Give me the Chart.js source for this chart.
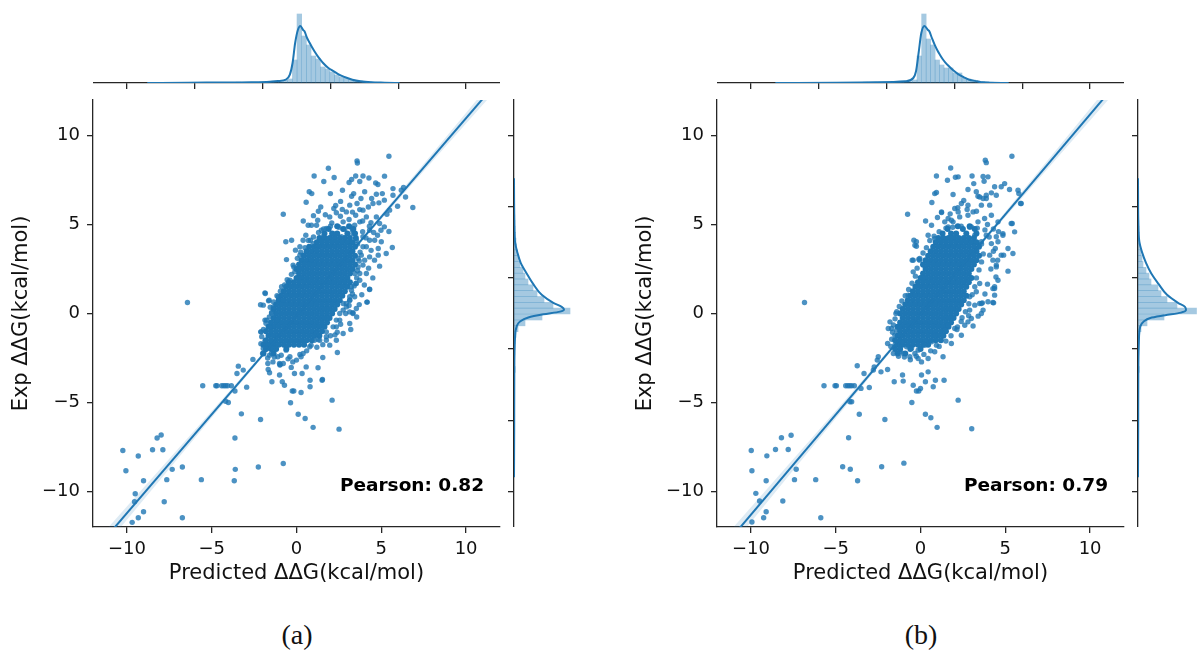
<!DOCTYPE html>
<html>
<head>
<meta charset="utf-8">
<script src="https://cdn.jsdelivr.net/npm/chart.js@4.4.0/dist/chart.umd.min.js"></script>
<style>
  body { margin: 0; background: #fff; }
  #wrap { position: relative; width: 1197px; height: 653px; overflow: hidden; background: #fff; }
  canvas { position: absolute; }
  .cap { position: absolute; width: 100px; text-align: center; font-family: "Liberation Serif", "DejaVu Serif", serif; font-size: 28px; line-height: 30px; color: #111; }
</style>
</head>
<body>
<div id="wrap">
  <canvas id="mainA" width="510" height="498" style="left:0px;top:90px"></canvas>
  <canvas id="topA" width="407" height="91" style="left:93px;top:0px"></canvas>
  <canvas id="rightA" width="73" height="437" style="left:500px;top:90px"></canvas>
  <canvas id="mainB" width="510" height="498" style="left:624px;top:90px"></canvas>
  <canvas id="topB" width="407" height="91" style="left:717px;top:0px"></canvas>
  <canvas id="rightB" width="73" height="437" style="left:1124px;top:90px"></canvas>
  <div class="cap" style="left:247px;top:620px">(a)</div>
  <div class="cap" style="left:871px;top:620px">(b)</div>
</div>
<script>
// ticks shared by both panels
const xTicks = [-10, -5, 0, 5, 10];
const yTicks = [-10, -5, 0, 5, 10];
const xTitle = 'Predicted ΔΔG(kcal/mol)';
const yTitle = 'Exp ΔΔG(kcal/mol)';
const pearson = [0.82, 0.79];

// regression fits [slope, intercept] and confidence band half widths
const fitA = [1.11, -0.12];
const fitB = [1.125, -0.06];
const bandX = [-12, -8, -4, 0, 4, 8, 12];
const bandHalfA = [0.45, 0.3, 0.15, 0.06, 0.1, 0.22, 0.38];
const bandHalfB = [0.5, 0.33, 0.17, 0.07, 0.11, 0.25, 0.42];

// dense core, rows of [y, x, x, ...]
const coreA = [
  [4.9, 2.4, 3.1],
  [4.75, 1.9, 2.75, 3.35],
  [4.5, 1.65, 2.1, 2.4, 3.0, 3.45],
  [4.25, 1.35, 1.65, 1.95, 2.25, 2.55, 2.85, 3.15, 3.5],
  [4.0, 1.2, 1.5, 1.8, 2.1, 2.4, 2.7, 3.0, 3.3],
  [3.75, 0.75, 1.05, 1.35, 1.65, 1.95, 2.25, 2.55, 2.85, 3.15, 3.45],
  [3.5, 0.6, 0.9, 1.2, 1.5, 1.8, 2.1, 2.4, 2.7, 3.0, 3.3],
  [3.25, 0.45, 0.75, 1.05, 1.35, 1.65, 1.95, 2.25, 2.55, 2.85, 3.15, 3.45],
  [3.0, 0.3, 0.6, 0.9, 1.2, 1.5, 1.8, 2.1, 2.4, 2.7, 3.0, 3.3],
  [2.75, 0.15, 0.45, 0.75, 1.05, 1.35, 1.65, 1.95, 2.25, 2.55, 2.85, 3.15, 3.45],
  [2.5, 0, 0.3, 0.6, 0.9, 1.2, 1.5, 1.8, 2.1, 2.4, 2.7, 3.0, 3.3],
  [2.25, 0.15, 0.45, 0.75, 1.05, 1.35, 1.65, 1.95, 2.25, 2.55, 2.85, 3.15],
  [2.0, 0, 0.3, 0.6, 0.9, 1.2, 1.5, 1.8, 2.1, 2.4, 2.7, 3.0],
  [1.75, -0.45, -0.15, 0.15, 0.45, 0.75, 1.05, 1.35, 1.65, 1.95, 2.25, 2.55, 2.85, 3.15],
  [1.5, -0.6, -0.3, 0, 0.3, 0.6, 0.9, 1.2, 1.5, 1.8, 2.1, 2.4, 2.7, 3.0],
  [1.25, -0.75, -0.45, -0.15, 0.15, 0.45, 0.75, 1.05, 1.35, 1.65, 1.95, 2.25, 2.55, 2.85],
  [1.0, -0.9, -0.6, -0.3, 0, 0.3, 0.6, 0.9, 1.2, 1.5, 1.8, 2.1, 2.4, 2.7],
  [0.75, -1.05, -0.75, -0.45, -0.15, 0.15, 0.45, 0.75, 1.05, 1.35, 1.65, 1.95, 2.25, 2.55],
  [0.5, -1.2, -0.9, -0.6, -0.3, 0, 0.3, 0.6, 0.9, 1.2, 1.5, 1.8, 2.1, 2.4],
  [0.25, -1.35, -1.05, -0.75, -0.45, -0.15, 0.15, 0.45, 0.75, 1.05, 1.35, 1.65, 1.95, 2.25],
  [0, -1.2, -0.9, -0.6, -0.3, 0, 0.3, 0.6, 0.9, 1.2, 1.5, 1.8, 2.1],
  [-0.25, -1.35, -1.05, -0.75, -0.45, -0.15, 0.15, 0.45, 0.75, 1.05, 1.35, 1.65, 1.95],
  [-0.5, -1.5, -1.2, -0.9, -0.6, -0.3, 0, 0.3, 0.6, 0.9, 1.2, 1.5, 1.8],
  [-0.75, -1.65, -1.35, -1.05, -0.75, -0.45, -0.15, 0.15, 0.45, 0.75, 1.05, 1.35, 1.65],
  [-1.0, -1.8, -1.5, -1.2, -0.9, -0.6, -0.3, 0, 0.3, 0.6, 0.9, 1.2, 1.5],
  [-1.25, -1.65, -1.35, -1.05, -0.75, -0.45, -0.15, 0.15, 0.45, 0.75, 1.05, 1.35],
  [-1.5, -1.8, -1.5, -1.2, -0.9, -0.6, -0.3, 0, 0.3, 0.6, 0.9],
  [-1.75, -1.95, -1.65, -1.35, -1.05, -0.75, -0.45, -0.15, 0.15, 0.45],
  [-2.0, -1.8, -1.5, -1.2, -0.6],
  [-2.25, -1.95, -1.35]
];
const coreB = [
  [4.9, 2.2, 2.9],
  [4.75, 1.6, 2.5, 3.2],
  [4.5, 1.3, 1.8, 2.1, 2.7, 3.3],
  [4.25, 1.05, 1.35, 1.65, 1.95, 2.25, 2.55, 2.85, 3.15],
  [4.0, 0.9, 1.2, 1.5, 1.8, 2.1, 2.4, 2.7, 3.0, 3.3],
  [3.75, 0.75, 1.05, 1.35, 1.65, 1.95, 2.25, 2.55, 2.85, 3.15, 3.45],
  [3.5, 0.6, 0.9, 1.2, 1.5, 1.8, 2.1, 2.4, 2.7, 3.0, 3.3],
  [3.25, 0.45, 0.75, 1.05, 1.35, 1.65, 1.95, 2.25, 2.55, 2.85, 3.15, 3.45],
  [3.0, 0.3, 0.6, 0.9, 1.2, 1.5, 1.8, 2.1, 2.4, 2.7, 3.0, 3.3],
  [2.75, 0.15, 0.45, 0.75, 1.05, 1.35, 1.65, 1.95, 2.25, 2.55, 2.85, 3.15],
  [2.5, 0.3, 0.6, 0.9, 1.2, 1.5, 1.8, 2.1, 2.4, 2.7, 3.0],
  [2.25, 0.15, 0.45, 0.75, 1.05, 1.35, 1.65, 1.95, 2.25, 2.55, 2.85],
  [2.0, 0, 0.3, 0.6, 0.9, 1.2, 1.5, 1.8, 2.1, 2.4, 2.7, 3.0],
  [1.75, -0.15, 0.15, 0.45, 0.75, 1.05, 1.35, 1.65, 1.95, 2.25, 2.55, 2.85],
  [1.5, -0.3, 0, 0.3, 0.6, 0.9, 1.2, 1.5, 1.8, 2.1, 2.4, 2.7],
  [1.25, -0.45, -0.15, 0.15, 0.45, 0.75, 1.05, 1.35, 1.65, 1.95, 2.25, 2.55],
  [1.0, -0.6, -0.3, 0, 0.3, 0.6, 0.9, 1.2, 1.5, 1.8, 2.1, 2.4, 2.7],
  [0.75, -0.75, -0.45, -0.15, 0.15, 0.45, 0.75, 1.05, 1.35, 1.65, 1.95, 2.25, 2.55],
  [0.5, -0.9, -0.6, -0.3, 0, 0.3, 0.6, 0.9, 1.2, 1.5, 1.8, 2.1, 2.4],
  [0.25, -1.05, -0.75, -0.45, -0.15, 0.15, 0.45, 0.75, 1.05, 1.35, 1.65, 1.95, 2.25],
  [0, -1.2, -0.9, -0.6, -0.3, 0, 0.3, 0.6, 0.9, 1.2, 1.5, 1.8, 2.1],
  [-0.25, -1.05, -0.75, -0.45, -0.15, 0.15, 0.45, 0.75, 1.05, 1.35, 1.65, 1.95],
  [-0.5, -1.2, -0.9, -0.6, -0.3, 0, 0.3, 0.6, 0.9, 1.2, 1.5, 1.8],
  [-0.75, -1.35, -1.05, -0.75, -0.45, -0.15, 0.15, 0.45, 0.75, 1.05, 1.35, 1.65],
  [-1.0, -1.2, -0.9, -0.6, -0.3, 0, 0.3, 0.6, 0.9, 1.2, 1.5],
  [-1.25, -1.35, -1.05, -0.75, -0.45, -0.15, 0.15, 0.45, 0.75, 1.05, 1.35],
  [-1.5, -1.5, -1.2, -0.9, -0.6, -0.3, 0, 0.3, 0.6, 0.9, 1.2],
  [-1.75, -1.35, -1.05, -0.75, -0.45, -0.15, 0.15, 0.45],
  [-2.0, -1.5, -1.2, -0.6, 0],
  [-2.25, -1.35, -0.9]
];

// scattered points, flat x,y pairs
const outA = [
  5.45,8.84, 3.57,8.58, 3.59,8.46, 1.88,8.16, 1.04,7.73, 1.61,7.42, 2.22,7.64, 0.75,6.84, 0.90,6.74, 0.57,6.25,
  2.0,6.74, 2.71,6.93, 3.10,7.36, 3.25,7.53, 3.49,7.73, 3.73,7.42, 3.92,7.73, 4.27,7.62, 4.67,7.34, 4.80,7.25,
  5.19,7.72, 5.69,7.02, 6.18,6.93, 6.31,7.08, 6.43,6.55, 6.86,5.96, 5.96,6.03, 5.49,5.81, 5.33,5.58, 5.69,6.65,
  5.06,6.74, 5.18,6.37, 4.71,6.70, 4.86,6.22, 4.43,6.46, 4.02,6.84, 3.80,6.46, 3.37,6.74, 3.25,6.59, 3.14,6.09,
  3.57,6.18, 3.92,5.81, 4.24,5.99, 4.51,6.18, 4.12,5.43, 4.39,5.11, 4.71,5.43, 4.90,5.06, 5.18,4.87, 4.98,4.68,
  5.45,4.61, 4.78,4.40, 4.31,4.68, 3.73,5.15, 5.65,3.71, 5.29,3.37, 4.82,3.65, 4.82,3.28, 4.90,2.66, 4.31,1.37,
  4.16,0.64, 4.12,2.25, 3.73,2.25, 3.49,1.69, 3.33,0.04, 3.14,0.09, 2.55,-0.37, 2.27,-1.20, 1.76,-1.50, 1.27,-1.46,
  -0.78,5.58, 0.69,4.96, 0.88,4.96, 1.25,5.24, 1.43,5.99, 1.29,5.75, 1.96,5.43, 2.35,5.66, 2.08,5.09, 2.59,5.47,
  2.94,5.71, 2.75,5.15, 3.10,5.28, 3.49,5.52, 3.73,5.84, 2.31,6.07, -0.63,4.03, -0.29,4.12, 0.55,4.40, 0.82,4.12,
  -0.06,3.56, -0.59,3.03, -0.20,2.72, -0.10,2.34, -1.84,1.12, -2.12,0.49, -1.65,0.71, -2.10,-1.03, -1.86,-0.37, 1.18,4.96,
  1.47,4.68, 1.76,4.78, 1.57,4.31, 2.16,4.49, 2.65,4.31, 3.14,4.87, 3.43,4.96, 3.33,4.49, 0.20,3.75, 0.39,3.28,
  0.98,3.93, 1.18,3.56, 0.88,3.0, 3.53,4.12, 3.92,3.75, 3.82,3.28, 4.02,3.0, 3.63,2.62, 3.43,2.25, 3.53,1.69,
  3.24,1.31, 3.14,0.94, 2.94,0.56, 2.75,0.19, 2.55,0, 2.35,-0.37, 2.16,-0.75, 1.76,-1.03, 4.12,3.75, 4.61,4.12,
  5.0,4.03, 3.92,4.31, 4.31,4.12, 3.63,3.09, 3.92,2.72, 4.31,3.18, 3.73,1.87, 3.24,1.50, 3.43,0.94, 2.94,0.37,
  3.14,0.75, 0.39,4.12, 0.2,3.28, -0.39,1.87, -0.88,1.50, -1.08,0.94, -1.37,0.37, -0.78,0.75, -1.47,0, -1.18,-0.37,
  3.6,3.9, 3.75,3.45, 3.7,2.95, 3.6,2.4, 3.55,2.0, 3.4,1.55, 3.3,1.1, 3.1,0.45, 2.9,0.0, 2.6,-0.6,
  2.4,-1.05, 2.0,-1.25, 1.55,-1.75, 1.2,-1.9, 0.6,-2.1, 0.2,-2.3, 3.9,4.6, 3.3,4.7, 2.85,4.75, 2.5,4.85,
  2.0,4.9, 1.6,4.75, 1.3,4.55, 1.0,4.3, 0.7,4.1, 0.5,3.7, 0.25,3.45, 0.05,3.1, -0.15,2.6, -0.3,2.2,
  -0.55,1.9, -0.7,1.6, -0.95,1.25, -1.15,1.0, -1.35,0.65, -1.55,0.35, -1.6,-0.2, -1.8,-0.55, -1.95,-0.9, -2.05,-1.3,
  -2.1,-1.7, -2.0,-2.25, -1.7,-2.5, -1.3,-2.45, -0.9,-2.35, -0.5,-2.55, 2.2,5.9, 2.7,5.85, 3.3,5.7, 1.7,5.55,
  2.6,6.3, 1.0,5.5, 0.4,5.2, 3.9,5.2, 4.3,4.9, 4.55,4.55, 4.1,4.25, 4.4,3.55, 4.6,3.0, 4.25,2.55,
  4.5,2.0, 4.0,1.6, 3.85,1.05, 3.7,0.5, 3.55,-0.2, 3.2,-0.9,
  -1.78,-1.97, -1.59,-2.34, -1.69,-2.81, -1.39,-2.72, -1.0,-2.81, -1.10,-2.43, -3.43,-2.96, -3.51,-3.37, -3.14,-3.18, -2.57,-2.58,
  -1.67,-3.15, -1.59,-3.33, -1.45,-3.84, -1.0,-3.46, -0.84,-3.84, -0.71,-4.03, -0.25,-4.36, -0.16,-4.36, -0.35,-5.02, 0.10,-5.66,
  0.51,-5.90, 0.98,-6.40, 0.27,-4.44, 0.80,-4.12, 0.80,-3.75, 0.57,-3.0, 0.33,-3.37, -0.12,-3.37, -0.31,-3.03, -0.96,-2.87,
  -0.22,-2.72, -0.61,-2.06, 0.27,-2.43, 0.86,-1.78, 1.06,-1.50, 1.51,-3.75, 1.55,-2.47, 2.41,-2.19, 1.27,-3.05, 1.53,-3.71,
  2.10,-4.87, 2.51,-6.50, 1.96,-1.78, 2.35,-1.50, 2.75,-1.12, 3.14,-0.56, 3.33,0, 3.53,0.28, 4.31,1.35, 4.16,0.64,
  3.14,0.75, 2.75,0.56, 2.35,-0.75, 1.76,-1.31, 1.37,-1.50, 1.18,-1.12, 0.78,-1.87, 0.39,-2.25, 0,-2.62, -0.39,-2.43,
  -0.78,-2.81, -0.98,-2.90, -1.47,-2.25, -1.37,-1.97, -1.86,1.16, -1.96,0.47, -1.61,0.75, -1.47,0.06, -1.76,-0.37, -1.57,-0.75,
  -2.10,-1.03, -1.86,-1.54, -1.96,-1.97,
  -5.53,-4.06, -4.76,-4.06, -4.69,-4.06, -4.41,-4.06, -4.29,-4.06, -4.18,-4.06, -4.06,-4.06, -3.84,-4.06, -3.63,-4.36, -2.94,-4.14,
  -4.18,-4.93, -4.02,-5.0, -3.25,-5.64, -2.12,-5.96, -3.63,-7.0, -3.61,-8.76, -3.67,-9.40, -5.61,-9.34, -6.73,-11.48, -6.73,-8.63,
  -7.33,-8.76, -7.65,-9.34, -7.80,-10.58, -2.25,-8.63, -0.78,-8.43, -6.43,0.62,
  -10.24,-7.70, -10.06,-8.84, -9.33,-8.01, -8.49,-7.66, -8.22,-7.0, -7.98,-6.83, -7.88,-7.66, -9.02,-9.40, -9.51,-10.13, -9.55,-10.58,
  -9.02,-11.14, -9.33,-11.48, -9.69,-11.74
];
const outB = [
  5.39,8.84, 3.82,8.61, 3.88,8.48, 1.78,8.18, 0.94,7.73, 1.59,7.49, 2.22,7.68, 2.06,7.66, 3.04,7.73, 3.14,7.30,
  3.69,7.70, 3.98,7.68, 3.75,7.43, 0.84,6.74, 0.94,6.80, 0.67,6.24, -0.76,5.58, 1.92,6.69, 2.80,6.97, 3.29,6.84,
  3.39,6.59, 3.69,6.46, 3.88,6.65, 4.18,6.78, 4.47,6.65, 4.76,7.12, 4.96,7.30, 5.25,6.97, 5.75,6.93, 5.90,6.18,
  5.35,5.06, 5.55,4.59, 4.86,4.40, 5.16,3.65, 5.16,2.38, 4.47,2.62, 4.37,1.40, 4.27,0.62, 3.59,0, 2.84,-0.13,
  2.45,-0.24, 2.61,-0.66, 2.18,-0.75, 4.41,3.65, 4.08,3.28, 4.76,3.28, 4.18,3.93, 4.57,4.03, 3.88,4.40, 3.59,4.03,
  3.20,4.40, 3.0,4.87, 3.39,5.15, 3.78,5.34, 4.18,5.52, 4.57,5.15, 4.08,6.09, 3.59,6.09, 2.80,6.09, 2.41,6.18,
  2.22,5.71, 2.80,5.52, 3.10,5.71, 1.63,5.34, 1.92,5.15, 1.63,4.87, 2.02,5.90, 1.24,5.67, 1.43,5.15, 0.65,4.96,
  0.45,4.40, 0.84,4.21, -0.24,4.03, -0.33,3.84, -0.10,3.05, -0.43,3.0, -0.73,1.03, -0.33,1.03, -6.84,0.62, -1.45,0,
  -0.39,4.12, -0.24,3.78, -0.49,3.0, -0.04,3.09, -0.43,2.34, 0.16,2.72, 1.24,5.71, 1.82,5.24, 2.31,5.43, 3.49,6.55,
  3.88,6.46, 4.37,7.12, 5.80,6.74, 5.94,6.18, 5.41,5.06, 4.86,4.49, 4.47,4.31, 4.90,3.28, 5.45,3.37, 4.27,3.0,
  4.47,2.72, 4.57,1.87, 4.37,1.50, 4.31,0.60, 3.49,1.69, 3.29,1.22, 3.49,0.56, 2.90,0.94, 3.69,0.19, 2.90,0.19,
  3.6,3.9, 3.7,3.35, 3.6,2.9, 3.45,2.45, 3.3,2.0, 3.2,1.5, 3.05,1.05, 2.85,0.55, 2.65,0.1, 2.4,-0.45,
  2.15,-0.9, 1.8,-1.25, 1.5,-1.55, 1.1,-1.85, 0.6,-2.1, 0.2,-2.3, 3.8,4.7, 3.35,4.8, 2.9,4.85, 2.4,4.9,
  1.9,4.85, 1.5,4.8, 1.1,4.6, 0.8,4.35, 0.55,4.1, 0.35,3.7, 0.15,3.4, -0.05,3.0, -0.2,2.55, -0.3,2.1,
  -0.5,1.7, -0.7,1.35, -0.9,1.0, -1.1,0.7, -1.25,0.4, -1.4,0.1, -1.5,-0.3, -1.6,-0.65, -1.65,-1.05, -1.7,-1.45,
  -1.75,-1.85, -1.6,-2.25, -1.3,-2.4, -0.95,-2.45, -0.6,-2.6, -0.25,-2.4, 2.2,5.95, 2.75,5.85, 3.3,5.75, 1.75,5.6,
  2.55,6.35, 1.0,5.4, 0.3,5.2, 3.95,5.0, 4.3,4.75, 4.6,4.6, 4.05,4.3, 4.3,3.5, 4.55,3.0, 4.15,2.5,
  4.45,2.05, 3.95,1.65, 3.8,1.1, 3.65,0.6, 3.4,-0.15, 3.1,-0.7,
  -1.80,-0.47, -1.71,-0.84, -1.41,-0.94, -1.22,-1.22, -1.94,-1.69, -1.51,-1.78, -1.22,-2.15, -1.02,-2.25, -0.63,-2.43, -0.33,-2.25,
  -0.14,-2.53, 0.06,-2.72, 0.45,-2.53, 0.84,-2.15, 0.94,-1.78, 1.33,-2.43, 1.82,-1.69, 2.41,-1.22, 2.80,-0.47, 3.0,-0.28,
  3.20,0.47, 3.59,0.56, 3.98,0.66, 4.37,1.03, 4.27,1.40, -1.90,-0.84, -1.22,-0.84, -1.51,-1.22, -1.12,-1.59, -0.82,-1.87,
  -0.53,-1.97, -0.14,-2.06, 0.25,-1.78, 0.65,-1.59, 0.84,-1.22, 1.43,-0.94, 1.63,-0.66, 2.02,-0.84,
  -2.49,-2.43, -2.55,-2.62, -3.73,-2.94, -3.33,-3.37, -2.78,-3.18, -2.73,-3.0, -2.33,-3.28, -1.94,-3.15, -1.55,-3.84, -1.06,-3.46,
  -1.02,-3.80, -0.43,-4.03, -0.24,-4.36, -0.10,-4.36, 0,-4.21, 0.29,-3.84, 0.75,-4.12, 0.88,-3.75, 1.39,-3.75, 0.45,-3.28,
  0.06,-3.46, -0.51,-5.0, 0.29,-5.66, 0.61,-5.86, 0.98,-6.40, 2.22,-4.87, 3.02,-6.48,
  -5.69,-4.06, -5.04,-4.06, -4.96,-4.06, -4.41,-4.06, -4.29,-4.06, -4.18,-4.06, -4.06,-4.06, -3.90,-4.06, -3.51,-4.21, -3.02,-4.16,
  -4.16,-4.96, -4.06,-4.96, -3.61,-5.66, -2.10,-5.96, -4.24,-6.98, -4.59,-8.61, -4.14,-8.75, -3.71,-9.40, -2.29,-8.61, -0.98,-8.41,
  -6.18,-9.34, -5.88,-11.48, -7.63,-6.84, -8.20,-6.98, -8.55,-7.64, -7.80,-7.64, -9.98,-7.70, -9.06,-8.0, -9.94,-8.84, -9.10,-9.40,
  -9.71,-10.11, -9.49,-10.54, -9.10,-11.14, -9.25,-11.48, -9.94,-11.72, -7.33,-8.75, -7.43,-9.34, -8.12,-10.54
];

// top marginal: histogram of predicted values + KDE
const topBinsA = [-9.45,-9.10,-5.66,-4.28,-3.93,-2.55,-2.20,-1.86,-1.51,-1.17,-0.82,-0.48,-0.13,0.21,0.56,0.90,1.25,1.59,1.94,2.28,2.63,2.97,3.32,3.66,4.01,4.35,4.70,5.04,5.39,5.73,6.08,6.42];
const topHistA = [0.6,0.6,0.4,0.9,0.6,0.6,0.8,1.0,1.2,1.5,2.5,4,23,69,47,38,27,24,16,14,11,8,6,4.5,3.5,2.5,2,1.5,1.2,0.8,0.6,0.5];
const topKdeXA = [-11,-8,-5,-3.33,-1.96,-1.37,-0.78,-0.49,-0.29,-0.10,0.10,0.29,0.49,0.59,0.78,0.98,1.18,1.37,1.57,1.76,1.96,2.35,2.75,3.14,3.53,4.12,4.71,5.49,6.5,7.6];
const topKdeA = [0,0.3,0.5,0.7,1.3,2,3.3,8.3,20,40,53,57,53,51.7,45,40,35,30.7,26.7,23.3,20,15,11.7,8.3,6,3.3,1.7,0.7,0.3,0];
const topBinsB = [-9.99,-9.66,-4.05,-2.40,-2.07,-1.74,-1.41,-1.08,-0.75,-0.42,-0.09,0.25,0.58,0.91,1.24,1.57,1.90,2.23,2.56,2.89,3.22,3.55,3.88,4.21,4.54,4.87,5.20,5.53];
const topHistB = [0.5,0.6,0.8,0.6,0.6,0.8,1,1.2,1.5,3,27,69,44,38,23,18,15,15,10,10,5,4,3,2,1.5,1.2,0.8,0.6];
const topKdeXB = [-10.7,-6.2,-3.3,-1.12,-0.53,-0.33,-0.14,0.06,0.29,0.55,0.65,0.84,1.04,1.24,1.43,1.63,1.82,2.02,2.41,2.80,3.20,3.59,4.18,4.57,6.5];
const topKdeB = [0,0.3,0.7,1.7,5,11.7,30,50,57,53,51.7,45,38.3,32.7,28.3,24,20.7,17.7,12.7,8.7,5.7,3.3,1.7,0.7,0];

// right marginal: histogram of experimental values + KDE
const rightBins = [-10.50,-9.27,-8.86,-4.76,-3.94,-3.53,-3.12,-2.71,-2.30,-1.89,-1.48,-1.07,-0.66,-0.25,0.17,0.58,0.99,1.40,1.81,2.22,2.63,3.04,3.45,3.86,4.27,4.68,5.09,5.50,5.91,6.32,6.73,7.14,7.55,8.37,8.78];
const rightHistA = [0.4,0.5,0.5,0.6,1.2,0.6,0.6,0.8,1,1.2,2,4,11,28,56,39,30,23,19,14,11,9,6,4.5,3.5,2.5,2,1.5,1.2,1,0.8,0.6,0.5,0.3,0.3];
const rightHistB = [0.4,0.5,0.5,0.6,1.2,0.6,0.6,0.8,1,1.2,1.5,3,9,26,58.5,39,29,23,20,13,11,8,5,4,3,2,1.5,1.2,1,0.8,0.6,0.5,0.5,0.3,0.3];
const rightKdeYA = [-11.5,-8,-4.3,-1.69,-0.90,-0.56,-0.28,-0.06,0.13,0.28,0.47,0.75,1.31,2.06,2.81,3.56,4.31,5.06,6.5,8,9.5];
const rightKdeA = [0,0.2,0.3,1,2.7,6,14.3,29.3,46,50,47.7,39.3,27.7,19.3,12.7,6.7,3.3,1,0.3,0.1,0];
const rightKdeYB = [-11.5,-8,-4.3,-1.69,-0.90,-0.56,-0.32,-0.13,0.06,0.24,0.47,0.75,1.31,2.06,2.81,3.56,4.31,5.06,6.5,8,9.5];
const rightKdeB = [0,0.2,0.3,1,2.3,5.7,12.3,27,43,48,47,40,29,20.7,13.3,8,4,1.3,0.3,0.1,0];

const BLUE = '#1f77b4';
const DOT = 'rgba(31,119,180,0.8)';
const BAR = 'rgba(31,119,180,0.4)';
const SPINE = '#262626';

Chart.defaults.animation = false;
Chart.defaults.font.family = '"DejaVu Sans", sans-serif';
Chart.defaults.color = '#111';

function pairs(flat) {
  const out = [];
  for (let i = 0; i < flat.length; i += 2) out.push({x: flat[i], y: flat[i + 1]});
  return out;
}
function rows(core) {
  const out = [];
  core.forEach(r => { for (let i = 1; i < r.length; i++) out.push({x: r[i], y: r[0]}); });
  return out;
}
function zip(xs, ys) { return xs.map((x, i) => ({x: x, y: ys[i]})); }
const minus = v => String(v).replace('-', '\u2212');

function spineAxis(extra) {
  return Object.assign({
    type: 'linear', min: -12, max: 12,
    grid: { drawOnChartArea: false, drawTicks: true, tickLength: 6, color: SPINE, lineWidth: 1.3 },
    border: { display: true, color: SPINE, width: 1.3 }
  }, extra);
}

const pearsonText = {
  id: 'pearsonText',
  afterDatasetsDraw(chart, args, opts) {
    const {ctx, chartArea} = chart;
    ctx.save();
    ctx.font = 'bold 18.5px "DejaVu Sans"';
    ctx.fillStyle = '#000';
    ctx.textAlign = 'right';
    ctx.fillText(opts.text, chartArea.right - 16, chartArea.bottom - 36);
    ctx.restore();
  }
};

function mainChart(id, core, outl, fit, bandHalf, r) {
  const line = [-12, 12].map(x => ({x: x, y: fit[0] * x + fit[1]}));
  const up = bandX.map((x, i) => ({x: x, y: fit[0] * x + fit[1] + bandHalf[i]}));
  const lo = bandX.map((x, i) => ({x: x, y: fit[0] * x + fit[1] - bandHalf[i]}));
  new Chart(document.getElementById(id), {
    type: 'scatter',
    data: {
      datasets: [
        { type: 'line', data: line, borderColor: BLUE, borderWidth: 2, pointRadius: 0, clip: 0 },
        { type: 'line', data: up, borderWidth: 0, pointRadius: 0, fill: false, clip: 0 },
        { type: 'line', data: lo, borderWidth: 0, pointRadius: 0, fill: '-1', backgroundColor: 'rgba(31,119,180,0.15)', clip: 0 },
        { data: pairs(outl), backgroundColor: DOT, borderWidth: 0, pointRadius: 2.7, clip: 0 },
        { data: rows(core), backgroundColor: BLUE, borderWidth: 0, pointRadius: 3, clip: 0 }
      ]
    },
    options: {
      responsive: false,
      layout: { padding: { top: 10, right: 10, left: 0, bottom: 0 } },
      plugins: { legend: { display: false }, tooltip: { enabled: false }, pearsonText: { text: 'Pearson: ' + r.toFixed(2) } },
      scales: {
        x: spineAxis({
          position: 'bottom',
          afterBuildTicks: s => { s.ticks = xTicks.map(v => ({value: v})); },
          afterFit: s => { s.height = 61; s.paddingLeft = 0; s.paddingRight = 0; },
          ticks: { font: { size: 18 }, padding: 6, color: '#111', callback: minus },
          title: { display: true, text: xTitle, font: { size: 21 }, padding: { top: 0, bottom: 2 }, color: '#111' }
        }),
        y: spineAxis({
          position: 'left',
          afterBuildTicks: s => { s.ticks = yTicks.map(v => ({value: v})); },
          afterFit: s => { s.width = 93; s.paddingTop = 0; s.paddingBottom = 0; },
          ticks: { font: { size: 18 }, padding: 7, color: '#111', callback: minus },
          title: { display: true, text: yTitle, font: { size: 21 }, padding: { top: 9, bottom: 0 }, color: '#111' }
        })
      }
    },
    plugins: [pearsonText]
  });
}

function topChart(id, bins, hist, kx, kv) {
  new Chart(document.getElementById(id), {
    type: 'bar',
    data: {
      datasets: [
        { type: 'line', data: zip(kx, kv), borderColor: BLUE, borderWidth: 2, pointRadius: 0, cubicInterpolationMode: 'monotone', clip: 0 },
        { data: zip(bins, hist), backgroundColor: BAR, borderWidth: 0, barPercentage: 1, categoryPercentage: 1, grouped: false }
      ]
    },
    options: {
      responsive: false,
      layout: { padding: { top: 11, right: 0, left: 0, bottom: 0 } },
      plugins: { legend: { display: false }, tooltip: { enabled: false } },
      scales: {
        x: spineAxis({
          position: 'bottom',
          afterBuildTicks: s => { s.ticks = xTicks.map(v => ({value: v})); },
          afterFit: s => { s.height = 8; s.paddingLeft = 0; s.paddingRight = 0; },
          ticks: { display: false }
        }),
        y: { type: 'linear', display: false, min: 0, max: 72 }
      }
    }
  });
}

function rightChart(id, bins, hist, ky, kv) {
  new Chart(document.getElementById(id), {
    type: 'bar',
    data: {
      datasets: [
        { type: 'line', data: zip(kv, ky), borderColor: BLUE, borderWidth: 2, pointRadius: 0, cubicInterpolationMode: 'monotone', clip: 0 },
        { data: bins.map((b, i) => ({x: hist[i], y: b})), backgroundColor: BAR, borderWidth: 0, barPercentage: 1, categoryPercentage: 1, grouped: false }
      ]
    },
    options: {
      responsive: false,
      indexAxis: 'y',
      layout: { padding: { top: 10, right: 0, left: 0, bottom: 0 } },
      plugins: { legend: { display: false }, tooltip: { enabled: false } },
      scales: {
        y: spineAxis({
          position: 'left',
          afterBuildTicks: s => { s.ticks = yTicks.map(v => ({value: v})); },
          afterFit: s => { s.width = 14; s.paddingTop = 0; s.paddingBottom = 0; },
          ticks: { display: false }
        }),
        x: { type: 'linear', display: false, min: 0, max: 59 }
      }
    }
  });
}

mainChart('mainA', coreA, outA, fitA, bandHalfA, pearson[0]);
mainChart('mainB', coreB, outB, fitB, bandHalfB, pearson[1]);
topChart('topA', topBinsA, topHistA, topKdeXA, topKdeA);
topChart('topB', topBinsB, topHistB, topKdeXB, topKdeB);
rightChart('rightA', rightBins, rightHistA, rightKdeYA, rightKdeA);
rightChart('rightB', rightBins, rightHistB, rightKdeYB, rightKdeB);
</script>
</body>
</html>
